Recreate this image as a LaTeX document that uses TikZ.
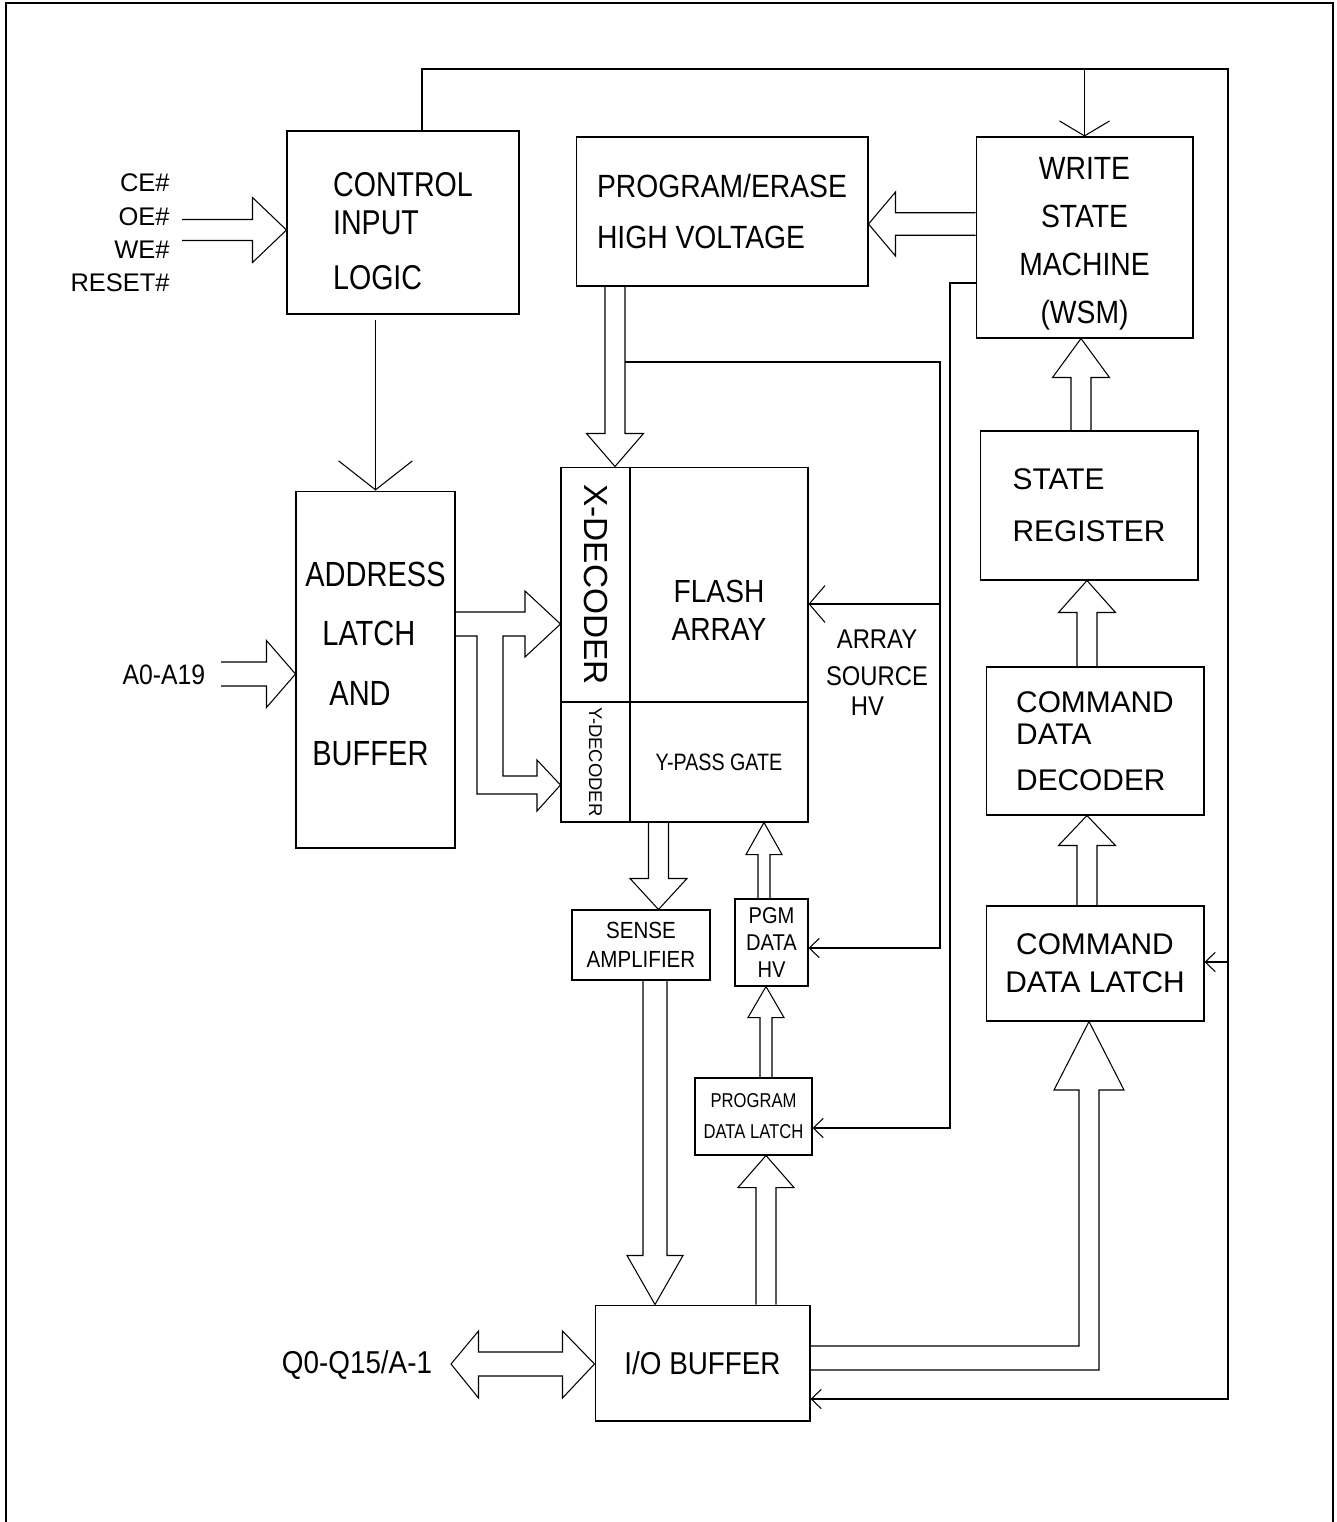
\documentclass[tikz,border=0pt]{standalone}
\usepackage{fontspec}
\usepackage{graphicx}
\setmainfont{Liberation Sans}
\newfontfamily\fnA[FakeStretch=0.83]{Liberation Sans}
\newfontfamily\fnB[FakeStretch=0.88]{Liberation Sans}
\usetikzlibrary{calc,arrows.meta}
\newcommand\fsz[2]{\fontsize{#1}{#2}\selectfont}
% hollow bus arrow: start, tip, shaft half width, head half width, head length (px)
\newcommand\busarrow[5]{%
  \pgfmathsetlengthmacro\bsw{#3*0.02cm}%
  \pgfmathsetlengthmacro\bhw{#4*0.02cm}%
  \pgfmathsetlengthmacro\bhl{#5*0.02cm}%
  \coordinate (hb) at ($#2!\bhl!#1$);
  \draw ($#1!\bsw!-90:#2$) -- ($(hb)!\bsw!-90:#2$) -- ($(hb)!\bhw!-90:#2$)
    -- #2 -- ($(hb)!\bhw!90:#2$) -- ($(hb)!\bsw!90:#2$) -- ($#1!\bsw!90:#2$);
}

\begin{document}
\begin{tikzpicture}[x=0.02cm, y=-0.02cm, line width=0.6pt,
    blk/.style={draw, inner sep=0pt},
    sig/.style={-{Straight Barb[length=5.7pt,width=11pt]}},
    sigwsm/.style={-{Straight Barb[length=8.5pt,width=28.5pt]}},
    sigarr/.style={-{Straight Barb[length=9pt,width=21pt]}},
    sigbig/.style={-{Straight Barb[length=16.5pt,width=42pt]}}]
  \useasboundingbox (0,0) rectangle (1336,1522);
  \draw[line width=1.5pt] (6,1522) |- (1333,3) -- (1333,1522);

  % blocks
  \node[blk, minimum width=4.64cm, minimum height=3.66cm, align=left,
    font=\fnA\fsz{19.6}{21.6}] (ctl) at (403,222.5)
    {\rule{0pt}{23.5pt}CONTROL\\INPUT\\[10.2pt]LOGIC};
  \node[blk, minimum width=5.84cm, minimum height=2.98cm, align=left,
    font=\fnB\fsz{18.3}{29}] (pe) at (722,211.5) {PROGRAM/ERASE\\HIGH VOLTAGE};
  \node[blk, minimum width=4.34cm, minimum height=4.02cm, align=center,
    font=\fnB\fsz{18.3}{27.3}] (wsm) at (1084.5,237.5)
    {\rule{0pt}{19.9pt}WRITE\\STATE\\MACHINE\\(WSM)};
  \node[blk, minimum width=4.36cm, minimum height=2.98cm, align=left,
    font=\fsz{17}{29.6}] (sr) at (1089,505.5) {STATE\\REGISTER};
  \node[blk, minimum width=4.36cm, minimum height=2.96cm, align=left,
    font=\fsz{17}{18.2}] (cmdd) at (1095,741) {COMMAND\\DATA\\[8pt]DECODER};
  \node[blk, minimum width=4.36cm, minimum height=2.30cm, align=center,
    font=\fsz{17}{21.6}] (cmdl) at (1095,963.5) {COMMAND\\DATA LATCH};
  \node[blk, minimum width=3.18cm, minimum height=7.14cm, align=left,
    font=\fnA\fsz{19.9}{34}] (addr) at (375.5,669.5)
    {ADDRESS\\\hspace*{9.7pt}LATCH\\\hspace*{13.7pt}AND\\\hspace*{4pt}BUFFER\rule[-6.8pt]{0pt}{6.8pt}};
  \node[blk, minimum width=1.38cm, minimum height=4.70cm,
    font=\fsz{19}{19}] (xdec) at (595.5,584.5) {\rotatebox{-90}{X-DECODER}};
  \node[blk, minimum width=3.56cm, minimum height=4.70cm] (arr) at (719,584.5) {};
  \node[align=center, font=\fnB\fsz{18.2}{21.6}] (arrtxt) at (719,610) {FLASH\\ARRAY};
  \node[blk, minimum width=1.38cm, minimum height=2.40cm,
    font=\fsz{10.5}{10.5}] (ydec) at (595.5,762) {\rotatebox{-90}{Y-DECODER}};
  \node[blk, minimum width=3.56cm, minimum height=2.40cm,
    font=\fnA\fsz{13.5}{13.5}] (ypass) at (719,762) {Y-PASS GATE};
  \node[blk, minimum width=2.76cm, minimum height=1.40cm, align=center,
    font=\fnB\fsz{13.3}{16.2}] (sense) at (641,945) {SENSE\\AMPLIFIER};
  \node[blk, minimum width=1.46cm, minimum height=1.74cm, align=center,
    font=\fnB\fsz{13}{15.4}] (pgm) at (771.5,942.5) {PGM\\DATA\\HV};
  \node[blk, minimum width=2.34cm, minimum height=1.54cm, align=center,
    font=\fnA\fsz{11.4}{17.6}] (pdl) at (753.5,1116.5) {PROGRAM\\DATA LATCH};
  \node[blk, minimum width=4.30cm, minimum height=2.32cm,
    font=\fnB\fsz{18}{18}] (io) at (702.5,1363) {I/O BUFFER};

  % outside labels
  \node[anchor=east, align=right, font=\fsz{14.5}{19}] (ctlin) at (176,233)
    {CE\#\\OE\#\\WE\#\\RESET\#};
  \node[font=\fnB\fsz{16}{16}] (alab) at (164,675) {A0-A19};
  \node[font=\fnB\fsz{18}{18}] (qlab) at (357,1365) {Q0-Q15/A-1};
  \node[align=center, font=\fnB\fsz{15.4}{21}] (arrsrc) at (877,673)
    {ARRAY\\SOURCE\\[-4pt]HV\hspace*{10.8pt}};

  % feedback loop round the right side
  \draw[sig] (ctl.north -| 422,0) |- (1228,69) |- (io.east |- 0,1399);
  \draw[sigwsm] (wsm.north |- 0,69) -- (wsm.north);
  \draw[sig] (1228,962) -- (cmdl.east |- 0,962);

  % inputs
  \coordinate (cin) at (182,230);
  \busarrow{(cin)}{(ctl.west |- cin)}{10.5}{32.5}{34}
  \coordinate (ain) at (221,674);
  \busarrow{(ain)}{(addr.west |- ain)}{12}{33.5}{29}
  \draw[sigbig] ($(addr.north |- ctl.south)+(0,5)$) -- (addr.north);

  % high voltage paths
  \busarrow{(wsm.west |- 0,224)}{(pe.east |- 0,224)}{11.25}{32}{27}
  \busarrow{(pe.south -| 615,0)}{(xdec.north -| 615,0)}{10}{28.5}{33}
  \draw[sig] (625,362) -| (940,948) -- (pgm.east |- 0,948);
  \draw[sigarr] (940,604) -- (arr.east |- 0,604);
  \draw[sig] (wsm.west |- 0,283) -| (950,1128) -- (pdl.east |- 0,1128);

  % command path
  \busarrow{(sr.north -| 1081,0)}{(wsm.south -| 1081,0)}{10}{28.5}{39}
  \busarrow{(cmdd.north -| 1087,0)}{(sr.south -| 1087,0)}{10}{28.5}{32}
  \busarrow{(cmdl.north -| 1087,0)}{(cmdd.south -| 1087,0)}{10}{28.5}{30}
  \draw (io.east |- 0,1346) -| (1079,1090) -- (1054,1090) -- (cmdl.south -| 1089,0)
    -- (1124,1090) -- (1099,1090) |- (io.east |- 0,1370);

  % address bus to decoders
  \draw (addr.east |- 0,612) -- (525,612) -- (525,591) -- (xdec.west |- 0,624)
    -- (525,657) -- (525,636) -- (503,636) |- (537,776) -- (537,760)
    -- (ydec.west |- 0,785) -- (537,811) -- (537,794) -| (477,636)
    -- (addr.east |- 0,636);

  % data paths
  \busarrow{(ypass.south -| 658.5,0)}{(sense.north -| 658.5,0)}{10}{28.5}{31}
  \busarrow{(sense.south -| 655,0)}{(io.north -| 655,0)}{12}{28}{49}
  \busarrow{(pgm.north -| 764,0)}{(ypass.south -| 764,0)}{6}{18}{32}
  \busarrow{(pdl.north -| 766,0)}{(pgm.south -| 766,0)}{6}{18}{31}
  \busarrow{(io.north -| 766,0)}{(pdl.south -| 766,0)}{10}{28}{32}
  \coordinate (qtip) at (451,1364);
  \draw (qtip) -- (478.5,1331) -- (478.5,1352) -- (562.5,1352) -- (562.5,1331)
    -- (io.west |- qtip) -- (562.5,1398) -- (562.5,1376) -- (478.5,1376)
    -- (478.5,1398) -- cycle;
\end{tikzpicture}
\end{document}
